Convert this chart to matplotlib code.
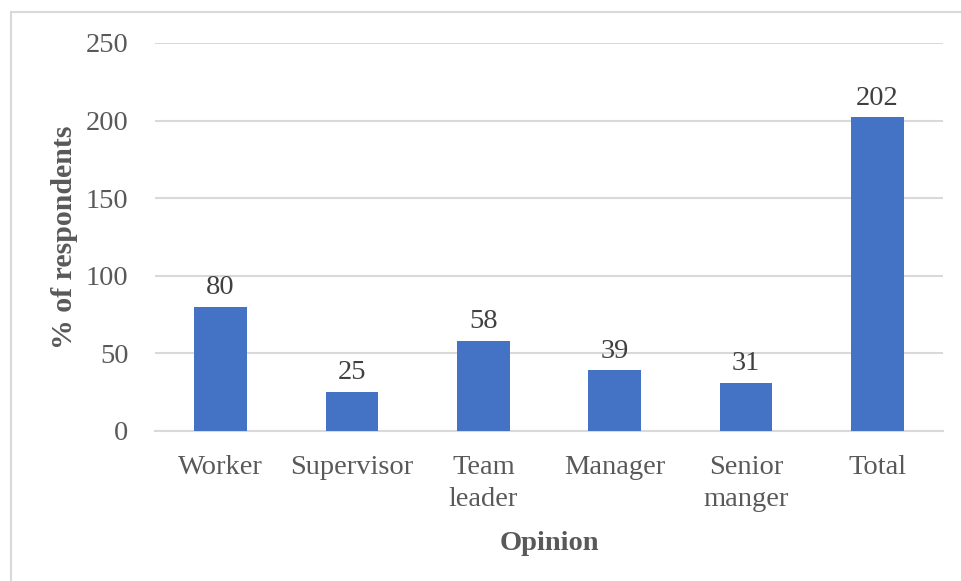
import matplotlib
matplotlib.use("Agg")
import matplotlib.pyplot as plt
from matplotlib.lines import Line2D

categories = ["Worker", "Supervisor", "Team\nleader", "Manager", "Senior\nmanger", "Total"]
values = [80, 25, 58, 39, 31, 202]
yticks = [0, 50, 100, 150, 200, 250]

plt.rcParams['font.family'] = ['Liberation Serif', 'DejaVu Serif']
FS = 20.5

fig = plt.figure(figsize=(9.61, 5.81), dpi=100)
ax = fig.add_axes([155/961, 1-431/581, (943-155)/961, (431-43)/581])

x = list(range(len(categories)))
bars = ax.bar(x, values, width=0.40, color="#4472C4", zorder=3)
for xi, v in zip(x, values):
    ax.annotate(str(v), (xi, v), xytext=(0, 5), textcoords="offset points",
                ha="center", va="bottom", fontsize=FS, color="#404040")

ax.set_xlim(-0.5, len(categories) - 0.5)
ax.set_ylim(0, 250)
ax.set_yticks(yticks)
ax.set_yticklabels([str(t) for t in yticks])
ax.set_xticks(x)
ax.set_xticklabels(categories, linespacing=1.35)
ax.tick_params(axis="both", length=0, labelsize=FS, labelcolor="#595959")
ax.tick_params(axis="y", pad=19)
ax.tick_params(axis="x", pad=17.5)
ax.grid(axis="y", color="#D9D9D9", linewidth=1.5, zorder=0)
for s in ["top", "right", "left"]:
    ax.spines[s].set_visible(False)
ax.spines["bottom"].set_color("#D9D9D9")
ax.spines["bottom"].set_linewidth(1.5)

ax.set_xlabel("Opinion", fontsize=FS, fontweight="bold", color="#595959", labelpad=14)
ax.set_ylabel("% of respondents", fontsize=FS + 1, fontweight="bold", color="#595959", labelpad=6)

# outer frame (top and left edges visible)
fig.add_artist(Line2D([11/961, 1.0], [1-12/581, 1-12/581], transform=fig.transFigure,
                      color="#D9D9D9", linewidth=1.5))
fig.add_artist(Line2D([11/961, 11/961], [0, 1-12/581], transform=fig.transFigure,
                      color="#D9D9D9", linewidth=1.5))

fig.savefig("out.png", dpi=100)
